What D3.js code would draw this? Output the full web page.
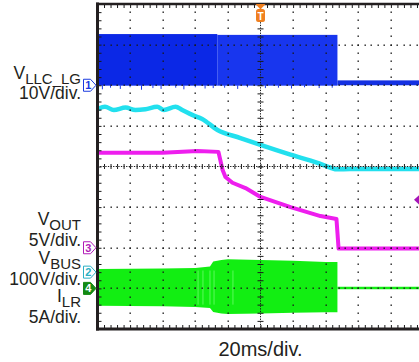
<!DOCTYPE html>
<html>
<head>
<meta charset="utf-8">
<script src="https://cdn.jsdelivr.net/npm/d3@7"></script>
<style>
  html, body { margin: 0; padding: 0; background: #fff; }
  svg { display: block; }
  text { font-family: "Liberation Sans", Arial, Helvetica, sans-serif; fill: #231f20; }
</style>
</head>
<body>
<svg id="scope" width="419" height="362"></svg>
<script>
// ---- horizontal: 10 divisions x 20 ms, trigger at centre (ms) ----
const timeDomain = [-100, 100];

// ---- channel settings: units per division and ground-marker offset (div) ----
const channelIds   = ["1", "2", "3", "4"];
const unitsPerDiv  = [10, 100, 5, 5];
const offsetDiv    = [2, -2.6, -2, -3];

// ---- CH1  V_LLC_LG (V): switching burst envelopes ----
const llcSegStart = [-100, -26.5, 47.2];
const llcSegEnd   = [-26.5, 47.2, 100];
const llcSegHigh  = [12.6, 12.4, 1.2];
const llcSegLow   = [-0.1, -0.1, 0.0];
const llcSpikeTime  = [-97, -92, -86, -80, -73, -66, -61, -52, -47, -40, -34, -29, -22, -14, -8, 3, 11, 19, 27, 36, 44];
const llcSpikeValue = [-1.0, -0.6, -0.9, -0.5, -1.1, -0.7, -0.9, -0.6, -1.0, -0.5, -0.8, -0.7, -0.6, -0.9, -0.5, -0.7, -0.6, -0.8, -0.5, -0.7, -0.6];

// ---- CH2  V_BUS (V) ----
const busTime = [-100, -99, -95.4, -90, -82.8, -76.7, -70.6, -63.4, -59.3, -52.1, -48, -41.9, -35.8, -26.4, -12.3, 0, 18.4, 35, 43, 47, 55, 70, 100];
const busVolt = [401, 403, 407, 399, 405, 399, 401, 407, 399, 407, 399, 387, 377, 350, 330, 313, 289, 269, 257, 253, 254, 254, 254];

// ---- CH3  V_OUT (V) ----
const outTime = [-100, -60, -38.7, -25.8, -23.3, -21.5, -17.2, -9.2, 0, 18.4, 36.8, 46.6, 47.9, 60, 100];
const outVolt = [11.7, 11.7, 11.9, 11.8, 9.6, 8.7, 8.0, 7.35, 6.25, 5.0, 3.9, 3.55, -0.1, -0.1, -0.1];
const triggerLevel = 5.9;   // on CH3

// ---- CH4  I_LR (A): resonant-current envelope, then idle ----
const ilrTime = [-100, -60, -40, -31, -29, -24, -20, 0, 20, 40, 47.2];
const ilrHigh = [2.4, 2.45, 2.5, 2.7, 3.3, 3.5, 3.6, 3.5, 3.4, 3.25, 3.25];
const ilrLow  = [-2.15, -2.2, -2.3, -2.4, -2.9, -3.1, -3.15, -3.1, -3.0, -2.95, -2.95];
const ilrIdleTime = [47.2, 100];
const ilrIdleAmp  = [0.05, 0.05];
const ilrStreakTime = [-38.3, -35.3, -31, -28.5, -16.9];

// ---- text (top to bottom) ----
const labelMain = ["V", "V", "V", "I"];
const labelSub  = ["LLC_LG", "OUT", "BUS", "LR"];
const labelDiv  = ["10V/div.", "5V/div.", "100V/div.", "5A/div."];
const timeLabel = "20ms/div.";

// ================= drawing =================
const svg = d3.select("#scope");
const plotL = 97.5, plotR = 423.5, plotT = 4, plotB = 329;

const x = d3.scaleLinear().domain(timeDomain).range([plotL, plotR]);
const yDiv = d3.scaleLinear().domain([-4, 4]).range([plotB, plotT]);
const chY = unitsPerDiv.map((u, i) =>
  d3.scaleLinear().domain([(-4 - offsetDiv[i]) * u, (4 - offsetDiv[i]) * u]).range([plotB, plotT]));

svg.append("defs").append("clipPath").attr("id", "plotClip")
  .append("rect").attr("x", plotL).attr("y", plotT).attr("width", plotR - plotL).attr("height", plotB - plotT);

const traces = svg.append("g").attr("clip-path", "url(#plotClip)");

// CH1 bursts
const llcColors = ["#0b28e6", "#1836ee", "#1430e2"];
const llcSegs = llcSegStart.map((s, i) => ({ s, e: llcSegEnd[i], hi: llcSegHigh[i], lo: llcSegLow[i], i }));
traces.selectAll("rect.llc").data(llcSegs).join("rect")
  .attr("class", "llc")
  .attr("x", d => x(d.s)).attr("width", d => x(d.e) - x(d.s))
  .attr("y", d => chY[0](d.hi)).attr("height", d => chY[0](d.lo) - chY[0](d.hi))
  .attr("fill", d => llcColors[d.i]);
traces.selectAll("line.llcSpike").data(llcSpikeTime.map((t, i) => ({ t, v: llcSpikeValue[i] }))).join("line")
  .attr("class", "llcSpike")
  .attr("x1", d => x(d.t)).attr("x2", d => x(d.t))
  .attr("y1", chY[0](0)).attr("y2", d => chY[0](d.v))
  .attr("stroke", "#1a38e8").attr("stroke-width", 1);

// CH4 envelope
const ilrData = ilrTime.map((t, i) => ({ t, hi: ilrHigh[i], lo: ilrLow[i] }));
traces.append("path").datum(ilrData)
  .attr("d", d3.area().x(d => x(d.t)).y0(d => chY[3](d.lo)).y1(d => chY[3](d.hi)))
  .attr("fill", "#12ee12");
traces.selectAll("line.streak").data(ilrStreakTime).join("line")
  .attr("class", "streak")
  .attr("x1", d => x(d)).attr("x2", d => x(d))
  .attr("y1", chY[3](2.2)).attr("y2", chY[3](-2.0))
  .attr("stroke", "#7cff7c").attr("stroke-width", 0.7);
traces.append("path").datum(ilrIdleTime.map((t, i) => ({ t, v: ilrIdleAmp[i] })))
  .attr("d", d3.line().x(d => x(d.t)).y(d => chY[3](d.v)))
  .attr("fill", "none").attr("stroke", "#12ee12").attr("stroke-width", 2.5);

// CH2 bus voltage
traces.append("path").datum(busTime.map((t, i) => ({ t, v: busVolt[i] })))
  .attr("d", d3.line().x(d => x(d.t)).y(d => chY[1](d.v)).curve(d3.curveMonotoneX))
  .attr("fill", "none").attr("stroke", "#22e0ee").attr("stroke-width", 4.5)
  .attr("stroke-linejoin", "round");

// CH3 output voltage
traces.append("path").datum(outTime.map((t, i) => ({ t, v: outVolt[i] })))
  .attr("d", d3.line().x(d => x(d.t)).y(d => chY[2](d.v)))
  .attr("fill", "none").attr("stroke", "#ee1eee").attr("stroke-width", 4)
  .attr("stroke-linejoin", "round");

// ---- graticule (drawn over the traces) ----
const grid = svg.append("g");
const minorT = d3.range(0, 51).map(i => -100 + i * 4);
const minorDiv = d3.range(0, 41).map(i => -4 + i * 0.2);
const majorT = d3.range(-80, 81, 20).filter(t => t !== 0);
const majorDiv = d3.range(-3, 4).filter(d => d !== 0);

const dots = [];
majorDiv.forEach(dv => minorT.forEach(t => dots.push([x(t), yDiv(dv)])));
majorT.forEach(t => minorDiv.forEach(dv => dots.push([x(t), yDiv(dv)])));
grid.selectAll("rect.dot").data(dots).join("rect")
  .attr("class", "dot")
  .attr("x", d => Math.round(d[0]) - 0.5).attr("y", d => Math.round(d[1]) - 0.5)
  .attr("width", 1.4).attr("height", 1.4).attr("fill", "#1a1a1a");

// centre cross lines
grid.append("line").attr("x1", plotL).attr("x2", plotR).attr("y1", yDiv(0)).attr("y2", yDiv(0))
  .attr("stroke", "#1a1a1a").attr("stroke-width", 1).attr("stroke-dasharray", "1.3 1.3");
grid.append("line").attr("x1", x(0)).attr("x2", x(0)).attr("y1", plotT).attr("y2", plotB)
  .attr("stroke", "#1a1a1a").attr("stroke-width", 1).attr("stroke-dasharray", "1.3 1.3");

function tickAxis(axis, tx, ty, values, size) {
  const g = grid.append("g").attr("transform", `translate(${tx},${ty})`)
    .call(axis.tickValues(values).tickSize(size).tickSizeOuter(0).tickFormat(""));
  g.select(".domain").remove();
  g.selectAll(".tick line").attr("stroke", "#1a1a1a").attr("stroke-width", 1);
}
tickAxis(d3.axisBottom(x), 0, yDiv(0), minorT, 2.5);
tickAxis(d3.axisTop(x), 0, yDiv(0), minorT, 2.5);
tickAxis(d3.axisRight(yDiv), x(0), 0, minorDiv, 3);
tickAxis(d3.axisLeft(yDiv), x(0), 0, minorDiv, 3);
// border ticks
tickAxis(d3.axisBottom(x), 0, plotT, minorT, 4);
tickAxis(d3.axisTop(x), 0, plotB, minorT, 4);
tickAxis(d3.axisRight(yDiv), plotL, 0, minorDiv, 4);

// frame
grid.append("line").attr("x1", plotL).attr("x2", plotL).attr("y1", plotT - 1.5).attr("y2", plotB + 1.5)
  .attr("stroke", "#231f20").attr("stroke-width", 3);
grid.append("line").attr("x1", plotL - 1.5).attr("x2", plotR).attr("y1", plotB).attr("y2", plotB)
  .attr("stroke", "#231f20").attr("stroke-width", 3);
grid.append("line").attr("x1", plotL - 1.5).attr("x2", plotR).attr("y1", plotT).attr("y2", plotT)
  .attr("stroke", "#231f20").attr("stroke-width", 2.5);

// ---- trigger position marker ----
const trig = svg.append("g").attr("transform", `translate(${x(0)},0)`);
trig.append("path").attr("d", "M-5,4 L5,4 L0,9.5 Z").attr("fill", "#f08020");
trig.append("rect").attr("x", -4.5).attr("y", 9).attr("width", 9).attr("height", 13).attr("rx", 2.5)
  .attr("fill", "#f08020");
trig.append("text").attr("x", 0).attr("y", 19.5).attr("text-anchor", "middle")
  .style("font-size", "10px").style("font-weight", "bold").style("fill", "#fff").text("T");

// trigger level marker on the right edge
svg.append("path")
  .attr("d", `M414,${chY[2](triggerLevel)} l6,-5.5 v11 Z`)
  .attr("fill", "#a514b8");

// ---- channel ground markers ----
const markerStroke = ["#1a3be0", "#2ab0c4", "#b01cb8", "#128a12"];
const markerFill   = ["#fff", "#fff", "#fff", "#128a12"];
const markerText   = ["#1a3be0", "#2ab0c4", "#b01cb8", "#fff"];
channelIds.forEach((id, i) => {
  const cy = chY[i](0);
  const g = svg.append("g").attr("transform", `translate(0,${cy})`);
  g.append("path").attr("d", "M83.5,-6 H90.5 L96,0 L90.5,6 H83.5 Z")
    .attr("fill", markerFill[i]).attr("stroke", markerStroke[i]).attr("stroke-width", 1);
  g.append("text").attr("x", 88.2).attr("y", 4).attr("text-anchor", "middle")
    .style("font-size", "11px").style("font-weight", "bold").style("fill", markerText[i]).text(id);
});

// ---- channel labels ----
const labelBaseline = [79, 225, 264, 302];
const divBaseline   = [99, 246, 285, 323];
labelMain.forEach((m, row) => {
  const t = svg.append("text").attr("x", 81).attr("y", labelBaseline[row])
    .attr("text-anchor", "end").style("font-size", "17.5px");
  t.append("tspan").text(m);
  t.append("tspan").attr("dy", 4.5).style("font-size", "15px").text(labelSub[row]);
  svg.append("text").attr("x", 81).attr("y", divBaseline[row])
    .attr("text-anchor", "end").style("font-size", "17.5px").text(labelDiv[row]);
});

svg.append("text").attr("x", x(0)).attr("y", 356).attr("text-anchor", "middle")
  .style("font-size", "20px").text(timeLabel);
</script>
</body>
</html>
